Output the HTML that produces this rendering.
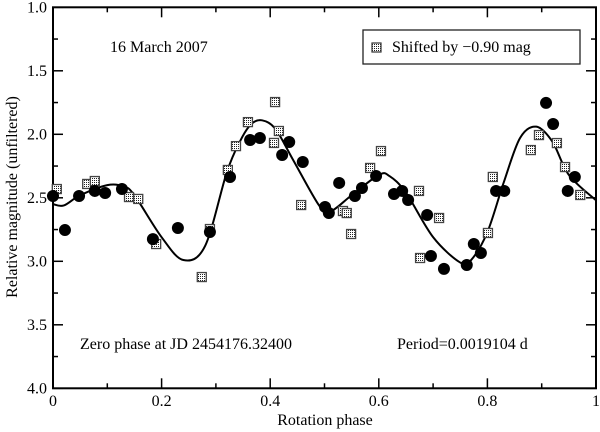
<!DOCTYPE html>
<html><head><meta charset="utf-8"><style>
html,body{margin:0;padding:0;background:#fff;}
svg{display:block;font-family:"Liberation Serif",serif;}
</style></head><body>
<svg id="chart" width="600" height="432" viewBox="0 0 600 432" xmlns="http://www.w3.org/2000/svg">
<defs>
<pattern id="dots" width="2" height="2" patternUnits="userSpaceOnUse">
<rect width="2" height="2" fill="#fff"/><rect x="0" y="0" width="1" height="1" fill="#222"/>
</pattern>
</defs>
<g id="axes"></g>
<g id="curve"></g>
<g id="marks"></g>
<text x="110" y="52" font-size="16">16 March 2007</text>
<g>
<rect x="363" y="30" width="217" height="34" fill="#fff" stroke="#222" stroke-width="1.3"/>
<rect x="372" y="43" width="9" height="9" fill="url(#dots)" stroke="#333" stroke-width="1.2"/>
<text x="392" y="52" font-size="16">Shifted by −0.90 mag</text>
</g>
<text x="80" y="349" font-size="16">Zero phase at JD 2454176.32400</text>
<text x="397" y="349" font-size="16">Period=0.0019104 d</text>
<text x="325" y="425" font-size="16" text-anchor="middle">Rotation phase</text>
<text x="17" y="197" font-size="16" text-anchor="middle" transform="rotate(-90 17 197)">Relative magnitude (unfiltered)</text>
</svg>
<script>
const xTicks = [0, 0.2, 0.4, 0.6, 0.8, 1];
const xTickLabels = ["0", "0.2", "0.4", "0.6", "0.8", "1"];
const yTicks = [1.0, 1.5, 2.0, 2.5, 3.0, 3.5, 4.0];
const yTickLabels = ["1.0", "1.5", "2.0", "2.5", "3.0", "3.5", "4.0"];
const circlePhase = [0.000,0.022,0.048,0.077,0.096,0.127,0.184,0.230,0.289,0.326,0.363,0.381,0.422,0.435,0.460,0.501,0.508,0.527,0.556,0.569,0.595,0.628,0.643,0.654,0.689,0.696,0.720,0.762,0.775,0.788,0.816,0.831,0.908,0.921,0.948,0.961];
const circleMag = [2.486,2.754,2.486,2.446,2.462,2.431,2.825,2.738,2.769,2.336,2.045,2.029,2.163,2.061,2.218,2.572,2.620,2.383,2.486,2.423,2.328,2.470,2.446,2.517,2.635,2.958,3.060,3.029,2.864,2.935,2.446,2.446,1.753,1.919,2.446,2.336];
const squarePhase = [0.007,0.063,0.077,0.140,0.157,0.190,0.274,0.289,0.322,0.337,0.359,0.409,0.407,0.416,0.457,0.534,0.541,0.549,0.584,0.604,0.674,0.711,0.676,0.801,0.810,0.880,0.895,0.928,0.943,0.971];
const squareMag = [2.431,2.391,2.368,2.494,2.509,2.864,3.124,2.746,2.281,2.093,1.904,1.746,2.068,1.974,2.557,2.604,2.620,2.785,2.265,2.132,2.446,2.659,2.974,2.777,2.336,2.124,2.006,2.069,2.258,2.478];
const curvePhase = [0,0.02,0.05,0.1,0.13,0.15,0.2,0.24,0.28,0.32,0.345,0.365,0.385,0.41,0.442,0.49,0.51,0.55,0.6,0.62,0.65,0.7,0.75,0.77,0.8,0.83,0.86,0.89,0.92,0.95,1.0];
const curveMag = [2.55,2.56,2.48,2.40,2.41,2.48,2.81,2.99,2.88,2.30,2.05,1.92,1.89,1.96,2.20,2.56,2.61,2.48,2.32,2.33,2.46,2.81,3.01,2.99,2.77,2.38,2.03,1.94,2.06,2.32,2.52];

const X0=53,X1=596,Y0=7.3,Y1=388.3;
const sx = p => X0 + (X1-X0)*p;
const sy = m => Y0 + (Y1-Y0)*(m-1)/3;
const NS="http://www.w3.org/2000/svg";
function mk(tag, attrs, parent){const e=document.createElementNS(NS,tag);for(const k in attrs)e.setAttribute(k,attrs[k]);parent.appendChild(e);return e;}
const axes=document.getElementById('axes');
const frame=mk('rect',{x:X0,y:Y0,width:X1-X0,height:Y1-Y0,fill:'none',stroke:'#000','stroke-width':2},axes);


for(let i=0;i<=10;i++){const x=sx(i/10);const L=i%2===0?10:5;
 mk('line',{x1:x,x2:x,y1:Y1,y2:Y1-L,stroke:'#000','stroke-width':1.5},axes);
 mk('line',{x1:x,x2:x,y1:Y0,y2:Y0+L,stroke:'#000','stroke-width':1.5},axes);}
for(let i=0;i<=12;i++){const y=sy(1+i*0.25);const L=i%2===0?10:5;
 mk('line',{x1:X0,x2:X0+L,y1:y,y2:y,stroke:'#000','stroke-width':1.5},axes);
 mk('line',{x1:X1,x2:X1-L,y1:y,y2:y,stroke:'#000','stroke-width':1.5},axes);}
xTicks.forEach((v,i)=>{const t=mk('text',{x:sx(v),y:406,'font-size':16,'text-anchor':'middle'},axes);t.textContent=xTickLabels[i];
 
 });
yTicks.forEach((v,i)=>{const t=mk('text',{x:X0-6,y:sy(v)+5,'font-size':16,'text-anchor':'end'},axes);t.textContent=yTickLabels[i];
 
 });
const pts=curvePhase.map((p,i)=>[sx(p),sy(curveMag[i])]);
let d='M'+pts[0][0]+','+pts[0][1];
for(let i=0;i<pts.length-1;i++){const p0=pts[Math.max(0,i-1)],p1=pts[i],p2=pts[i+1],p3=pts[Math.min(pts.length-1,i+2)];
 d+=` C${p1[0]+(p2[0]-p0[0])/6},${p1[1]+(p2[1]-p0[1])/6} ${p2[0]-(p3[0]-p1[0])/6},${p2[1]-(p3[1]-p1[1])/6} ${p2[0]},${p2[1]}`;}
const path=mk('path',{d:d,fill:'none',stroke:'#000','stroke-width':2},document.getElementById('curve'));


const marks=document.getElementById('marks');
squarePhase.forEach((p,i)=>{const r=mk('rect',{x:sx(p)-4.5,y:sy(squareMag[i])-4.5,width:9,height:9,fill:'url(#dots)',stroke:'#444','stroke-width':1.3},marks);
 
 });
circlePhase.forEach((p,i)=>{const c=mk('circle',{cx:sx(p),cy:sy(circleMag[i]),r:6,fill:'#000'},marks);
 
 });
</script>
</body></html>
